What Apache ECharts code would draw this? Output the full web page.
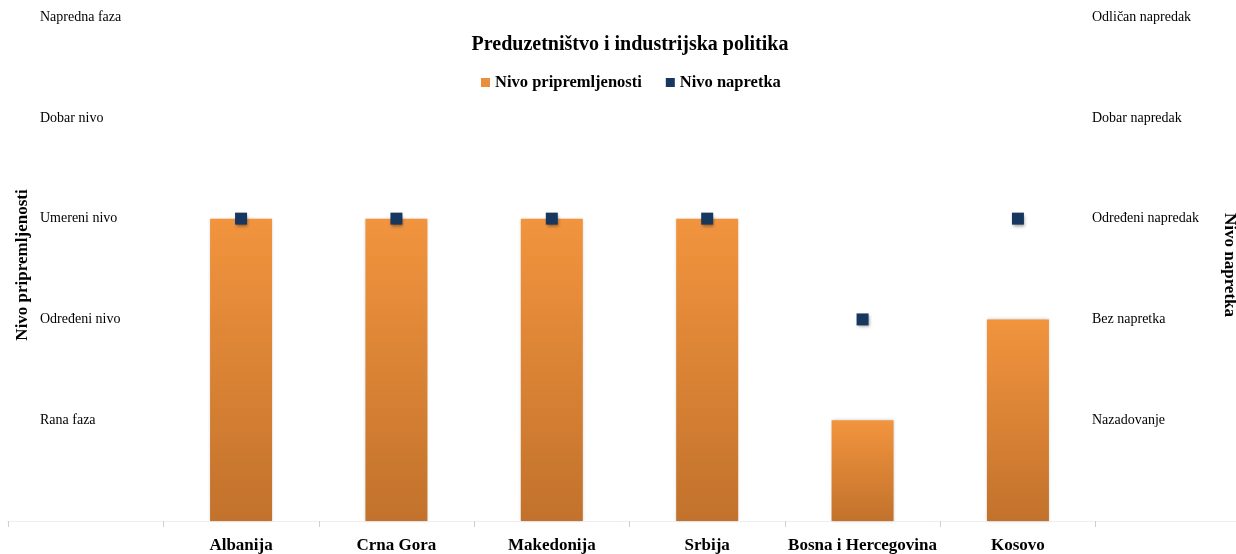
<!DOCTYPE html>
<html><head><meta charset="utf-8">
<script src="https://cdn.jsdelivr.net/npm/echarts@6/dist/echarts.min.js"></script>
<style>html,body{margin:0;padding:0;background:#fff}#c{width:1236px;height:554px}</style>
</head><body><div id="c"></div>
<script>
var categories = ['', 'Albanija', 'Crna Gora', 'Makedonija', 'Srbija', 'Bosna i Hercegovina', 'Kosovo', ''];
var preparedness = [null, 3, 3, 3, 3, 1, 2, null];
var progress = [null, 3, 3, 3, 3, 2, 3, null];
var leftLevels = ['', 'Rana faza', 'Određeni nivo', 'Umereni nivo', 'Dobar nivo', 'Napredna faza'];
var rightLevels = ['', 'Nazadovanje', 'Bez napretka', 'Određeni napredak', 'Dobar napredak', 'Odličan napredak'];
var titleText = 'Preduzetništvo i industrijska politika';
var seriesNames = ['Nivo pripremljenosti', 'Nivo napretka'];
var axisNames = ['Nivo pripremljenosti', 'Nivo napretka'];

var FONT = '"Liberation Serif", "DejaVu Serif", serif';
function levelFmt(arr){ return function(v){ return (Number.isInteger(v) && arr[v] !== undefined) ? arr[v] : ''; }; }

var chart = echarts.init(document.getElementById('c'), null, {renderer: 'canvas'});
chart.setOption({
  animation: false,
  backgroundColor: '#fff',
  title: {
    text: titleText, left: 625, top: 30, textAlign: 'center',
    textStyle: {fontFamily: FONT, fontWeight: 'bold', fontSize: 20, color: '#000'}
  },
  legend: {
    top: 69, left: 476, itemWidth: 9, itemHeight: 9, itemGap: 24,
    textStyle: {fontFamily: FONT, fontWeight: 'bold', fontSize: 16.5, color: '#000'},
    data: [
      {name: seriesNames[0], icon: 'rect', itemStyle: {color: '#EC8F3C'}},
      {name: seriesNames[1], icon: 'rect', itemStyle: {color: '#17375E'}}
    ]
  },
  grid: {left: 8, right: -15, top: 9, bottom: 33, containLabel: false, outerBoundsMode: 'none'},
  xAxis: [{
    type: 'category', data: categories, position: 'bottom',
    axisLine: {lineStyle: {color: '#d0d0d0', width: 1}},
    axisTick: {show: true, length: 6, lineStyle: {color: '#d0d0d0'}},
    axisLabel: {fontFamily: FONT, fontWeight: 'bold', fontSize: 17, color: '#000', margin: 16, interval: 0}
  }, {
    type: 'category', data: categories, position: 'top',
    axisLine: {lineStyle: {color: '#eeeeee', width: 1}},
    axisTick: {show: false}, axisLabel: {show: false}
  }],
  yAxis: [{
    type: 'value', min: 0, max: 5.08, interval: 1, position: 'left',
    name: axisNames[0], nameLocation: 'middle', nameRotate: 90, nameGap: -23, nameMoveOverlap: false,
    nameTextStyle: {fontFamily: FONT, fontWeight: 'bold', fontSize: 17, color: '#000'},
    axisLine: {show: false}, axisTick: {show: false}, splitLine: {show: false},
    axisLabel: {inside: true, margin: 32, fontFamily: FONT, fontSize: 14, color: '#000', padding: [7,0,0,0], formatter: levelFmt(leftLevels)}
  }, {
    type: 'value', min: 0, max: 5.08, interval: 1, position: 'right',
    name: axisNames[1], nameLocation: 'middle', nameRotate: -90, nameGap: -30, nameMoveOverlap: false,
    nameTextStyle: {fontFamily: FONT, fontWeight: 'bold', fontSize: 17, color: '#000'},
    axisLine: {show: false}, axisTick: {show: false}, splitLine: {show: false},
    axisLabel: {inside: true, margin: 159, align: 'left', fontFamily: FONT, fontSize: 14, color: '#000', padding: [7,0,0,0], formatter: levelFmt(rightLevels)}
  }],
  series: [{
    name: seriesNames[0], type: 'bar', data: preparedness, barWidth: 62, yAxisIndex: 0,
    itemStyle: {
      color: new echarts.graphic.LinearGradient(0, 0, 0, 1, [
        {offset: 0, color: '#F2943E'}, {offset: 1, color: '#C2722C'}
      ]),
      shadowColor: 'rgba(0,0,0,0.22)', shadowBlur: 3
    }
  }, {
    name: seriesNames[1], type: 'scatter', data: progress, yAxisIndex: 1,
    symbol: 'rect', symbolSize: 12, z: 5,
    itemStyle: {color: '#17375E', opacity: 1, shadowColor: 'rgba(0,0,0,0.35)', shadowBlur: 3, shadowOffsetX: 1, shadowOffsetY: 2}
  }]
});
</script></body></html>
